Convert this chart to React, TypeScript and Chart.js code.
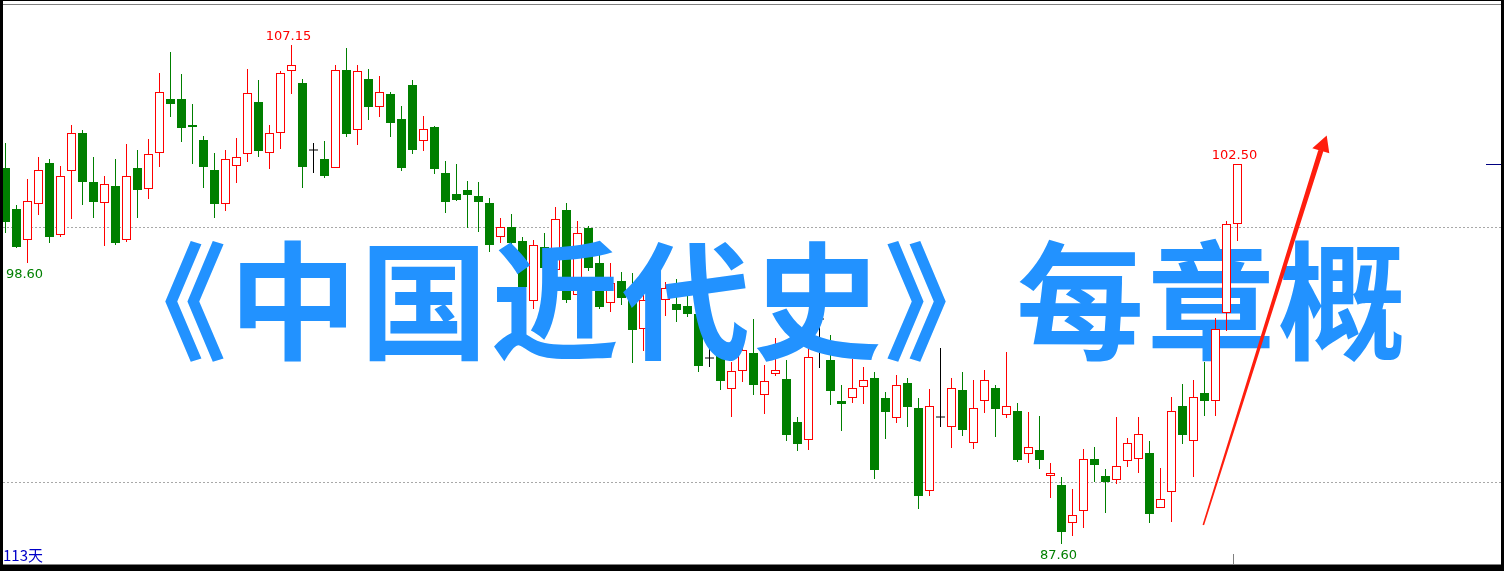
import { useEffect, useRef } from 'react';
import { Chart, registerables } from 'chart.js';

Chart.register(...registerables);

// ---- data (daily OHLC, 113 days) ----
const OPEN = [
  102.33, 100.72, 99.49, 100.90, 102.52, 99.69, 102.20, 103.70, 101.78, 100.94,
  101.62, 99.49, 102.33, 101.49, 102.90, 105.02, 105.02, 104.01, 103.42, 102.25,
  100.90, 102.39, 102.86, 104.91, 102.90, 103.69, 106.12, 105.65, 103.03, 102.68,
  102.31, 106.17, 103.80, 105.82, 104.71, 105.23, 104.25, 105.58, 103.37, 103.93,
  102.13, 101.32, 101.46, 101.23, 100.94, 99.61, 100.00, 99.46, 97.10, 99.22,
  98.33, 100.67, 97.33, 99.96, 98.59, 97.04, 97.89, 97.35, 96.00, 97.20,
  97.14, 96.99, 96.91, 96.60, 94.89, 95.30, 93.65, 94.35, 95.07, 93.41,
  94.24, 94.05, 92.36, 91.65, 96.40, 94.80, 93.19, 93.29, 93.73, 94.09,
  93.31, 92.53, 93.89, 92.91, 89.65, 92.55, 92.16, 93.61, 91.53, 93.18,
  93.69, 92.63, 92.80, 91.10, 91.27, 90.24, 89.89, 88.39, 88.89, 90.91,
  90.25, 90.08, 90.82, 90.90, 91.14, 88.99, 89.62, 92.98, 91.61, 93.49,
  93.18, 96.63, 100.12,
];
const HIGH = [
  103.29, 100.87, 101.89, 102.76, 102.67, 102.40, 104.00, 103.82, 102.76, 102.01,
  102.68, 103.27, 103.03, 103.46, 106.06, 106.87, 106.01, 104.84, 103.58, 102.93,
  103.03, 103.50, 106.21, 105.78, 104.01, 106.14, 107.15, 105.80, 103.29, 103.38,
  106.36, 107.03, 106.36, 106.21, 105.93, 105.31, 104.76, 105.78, 104.36, 103.97,
  102.60, 102.48, 101.82, 101.78, 101.15, 100.36, 100.52, 99.61, 99.50, 99.76,
  100.78, 100.94, 100.25, 100.05, 98.98, 98.59, 98.26, 98.20, 97.50, 97.50,
  97.87, 97.96, 97.35, 96.75, 95.50, 95.60, 94.73, 95.40, 96.40, 94.60,
  95.66, 94.80, 92.57, 95.32, 96.80, 95.78, 93.82, 94.82, 94.53, 94.34,
  93.54, 94.21, 94.09, 93.31, 93.66, 95.27, 94.09, 94.33, 94.01, 94.40,
  93.82, 95.11, 93.11, 92.76, 92.60, 90.76, 90.21, 89.74, 91.32, 91.40,
  90.53, 92.56, 91.74, 92.55, 91.61, 90.55, 93.36, 93.85, 94.02, 94.70,
  96.43, 100.26, 102.50,
];
const LOW = [
  99.76, 99.20, 98.60, 100.48, 99.40, 99.63, 100.34, 100.89, 100.38, 99.27,
  99.32, 99.42, 100.38, 101.12, 102.35, 104.34, 103.36, 102.48, 101.55, 100.38,
  100.65, 101.75, 102.57, 102.77, 102.30, 103.06, 105.22, 101.55, 102.14, 101.95,
  102.31, 103.55, 103.24, 104.22, 104.34, 103.55, 102.22, 102.89, 103.00, 102.10,
  100.57, 101.04, 99.98, 99.83, 99.04, 99.40, 99.35, 96.69, 96.78, 98.10,
  98.10, 97.04, 97.12, 98.30, 96.78, 96.69, 96.95, 94.67, 95.16, 96.00,
  96.53, 96.30, 96.49, 94.34, 94.53, 93.62, 92.57, 93.95, 93.42, 92.68,
  94.17, 91.63, 91.24, 91.27, 94.49, 93.03, 92.02, 93.12, 93.07, 90.13,
  91.71, 92.34, 92.18, 88.96, 89.47, 92.18, 91.36, 91.83, 91.29, 92.71,
  91.79, 92.53, 90.81, 90.75, 90.51, 89.37, 87.60, 87.91, 88.22, 90.02,
  88.78, 89.92, 90.59, 90.35, 88.42, 88.99, 88.45, 91.49, 90.20, 92.60,
  92.61, 95.95, 99.47,
];
const CLOSE = [
  100.22, 99.24, 101.02, 102.24, 99.63, 102.01, 103.69, 101.79, 101.00, 101.69,
  99.40, 102.01, 101.47, 102.86, 105.29, 104.85, 103.91, 103.95, 102.38, 100.93,
  102.67, 102.77, 105.25, 103.00, 103.69, 106.04, 106.35, 102.38, 103.03, 102.02,
  106.16, 103.67, 106.12, 104.73, 105.29, 104.10, 102.34, 103.04, 103.84, 102.30,
  101.00, 101.08, 101.28, 101.00, 99.32, 100.00, 99.40, 97.67, 99.29, 98.39,
  100.31, 97.13, 99.76, 98.39, 96.89, 97.80, 97.24, 95.97, 97.15, 96.40,
  97.61, 96.77, 96.61, 94.57, 94.89, 93.98, 94.35, 95.20, 93.83, 93.96,
  94.39, 91.85, 91.51, 94.90, 96.40, 93.59, 93.08, 93.69, 94.00, 90.48,
  92.77, 93.80, 92.96, 89.47, 92.98, 92.55, 93.69, 92.04, 92.90, 94.00,
  92.89, 92.98, 90.89, 91.37, 90.89, 90.35, 88.06, 88.71, 90.91, 90.68,
  90.01, 90.63, 91.53, 91.88, 88.75, 89.33, 92.78, 91.84, 93.33, 93.18,
  96.00, 100.12, 102.50,
];
const GRID_LEVELS = [100, 90];
const TITLE_OPEN = '《';
const TITLE_LEFT = '中国近代史》';
const TITLE_RIGHT = '每章概';
const DAY_LABEL = '113天';
// candles whose high / low carries a price label
const HIGH_LABELS = [26, 112];
const LOW_LABELS = [2, 96];
// candles from this index on are painted over the title text
const FRONT_FROM = 110;

const RED = '#FF0000';
const GREEN = '#007F00';
const BLUE_TEXT = '#2292FF';

const W = 1504;
const H = 571;
const Y_MAX = 108.914;
const Y_MIN = 86.522;
const STEP = 11;

const idx = OPEN.map((_, i) => i);
const isDoji = (i: number) => CLOSE[i] === OPEN[i];
const isUp = (i: number) => CLOSE[i] > OPEN[i];
const colorOf = (i: number) => (isDoji(i) ? '#000000' : isUp(i) ? RED : GREEN);

function wickSet(filter: (i: number) => boolean, order: number) {
  const ids = idx.filter(filter);
  return {
    type: 'bar' as const,
    data: ids.map((i) => ({ x: i, y: [LOW[i], HIGH[i]] })),
    backgroundColor: ids.map(colorOf),
    borderWidth: 0,
    barThickness: 1,
    grouped: false,
    inflateAmount: 0,
    order,
  };
}
function bodySet(filter: (i: number) => boolean, order: number) {
  const ids = idx.filter((i) => filter(i) && !isDoji(i));
  return {
    type: 'bar' as const,
    data: ids.map((i) => ({ x: i, y: [OPEN[i], CLOSE[i]] })),
    backgroundColor: ids.map((i) => (isUp(i) ? '#FFFFFF' : GREEN)),
    borderColor: ids.map(colorOf),
    borderWidth: ids.map((i) => (isUp(i) ? 1 : 0)),
    borderSkipped: false,
    barThickness: 9,
    grouped: false,
    inflateAmount: 0,
    order,
  };
}

function drawRun(ctx: CanvasRenderingContext2D, text: string, x0: number, y: number, advance: number) {
  let x = x0;
  for (const ch of text) {
    ctx.fillText(ch, x, y);
    x += advance;
  }
}

export default function App() {
  const ref = useRef<HTMLCanvasElement | null>(null);
  useEffect(() => {
    const canvas = ref.current;
    if (!canvas) return;
    const back = (i: number) => i < FRONT_FROM;
    const front = (i: number) => i >= FRONT_FROM;
    const dojiIds = idx.filter(isDoji);
    const datasets: any[] = [
      wickSet(back, 10),
      bodySet(back, 9),
      {
        type: 'line',
        data: dojiIds.map((i) => ({ x: i, y: OPEN[i] })),
        showLine: false,
        pointStyle: 'line',
        pointRadius: 4.5,
        pointHoverRadius: 4.5,
        borderColor: '#000000',
        pointBorderColor: '#000000',
        pointBorderWidth: 1,
        clip: false,
        order: 8,
      },
      wickSet(front, 2),
      bodySet(front, 1),
    ];

    const overlay = {
      id: 'overlay',
      beforeDatasetsDraw(chart: any) {
        const { ctx } = chart;
        const y = chart.scales.y;
        ctx.save();
        ctx.strokeStyle = '#A8A8A8';
        ctx.lineWidth = 1;
        ctx.setLineDash([2, 2]);
        GRID_LEVELS.forEach((v) => {
          const py = Math.round(y.getPixelForValue(v)) + 0.5;
          ctx.beginPath();
          ctx.moveTo(3, py);
          ctx.lineTo(W - 3, py);
          ctx.stroke();
        });
        ctx.restore();
      },
      afterDatasetDraw(chart: any, args: any) {
        if (args.index !== 2) return;
        const { ctx } = chart;
        ctx.save();
        ctx.fillStyle = BLUE_TEXT;
        ctx.font = "bold 128px 'Noto Sans CJK SC'";
        ctx.textBaseline = 'middle';
        ctx.textAlign = 'left';
        ctx.fillText(TITLE_OPEN, 99, 301);
        drawRun(ctx, TITLE_LEFT, 229, 301, 131);
        drawRun(ctx, TITLE_RIGHT, 1016, 301, 131);
        ctx.restore();
      },
      afterDatasetsDraw(chart: any) {
        const { ctx } = chart;
        const xs = chart.scales.x;
        const ys = chart.scales.y;
        ctx.save();
        // arrow
        const p0 = { x: 1203.3, y: 525 };
        const b = { x: 1320.8, y: 150.8 };
        const tip = { x: 1326.7, y: 135.5 };
        const L = { x: 1312.3, y: 148.3 };
        const R = { x: 1329.3, y: 153.3 };
        const dx = b.x - p0.x;
        const dy = b.y - p0.y;
        const len = Math.hypot(dx, dy);
        const nx = -dy / len;
        const ny = dx / len;
        const w0 = 0.8;
        const w1 = 2.6;
        ctx.fillStyle = '#FF1E0E';
        ctx.beginPath();
        ctx.moveTo(p0.x + nx * w0, p0.y + ny * w0);
        ctx.lineTo(b.x + nx * w1, b.y + ny * w1);
        ctx.lineTo(L.x, L.y);
        ctx.lineTo(tip.x, tip.y);
        ctx.lineTo(R.x, R.y);
        ctx.lineTo(b.x - nx * w1, b.y - ny * w1);
        ctx.lineTo(p0.x - nx * w0, p0.y - ny * w0);
        ctx.closePath();
        ctx.fill();

        // price labels
        ctx.font = "13px 'DejaVu Sans'";
        ctx.textAlign = 'center';
        ctx.textBaseline = 'alphabetic';
        HIGH_LABELS.forEach((i) => {
          ctx.fillStyle = RED;
          ctx.fillText(HIGH[i].toFixed(2), xs.getPixelForValue(i) - 3, ys.getPixelForValue(HIGH[i]) - 5);
        });
        LOW_LABELS.forEach((i) => {
          ctx.fillStyle = GREEN;
          ctx.fillText(LOW[i].toFixed(2), xs.getPixelForValue(i) - 3, ys.getPixelForValue(LOW[i]) + 15);
        });

        // last price marker
        const last = CLOSE.length - 1;
        ctx.fillStyle = '#000080';
        ctx.fillRect(1486, Math.round(ys.getPixelForValue(CLOSE[last])), 15, 1);
        // bottom tick
        ctx.fillStyle = '#808080';
        ctx.fillRect(Math.round(xs.getPixelForValue(last)) - 5, 554, 1, 10);

        // day count
        ctx.font = "15px 'Noto Sans CJK SC'";
        ctx.textAlign = 'left';
        ctx.fillStyle = '#0000C8';
        ctx.fillText(DAY_LABEL, 3, 561);

        // frame
        ctx.fillStyle = '#000000';
        ctx.fillRect(0, 0, W, 1);
        ctx.fillRect(0, 0, 3, H);
        ctx.fillRect(W - 3, 0, 3, H);
        ctx.fillRect(0, 565, W, H - 565);
        ctx.fillStyle = '#808080';
        ctx.fillRect(3, 4, W - 6, 1);
        ctx.fillRect(3, 564, W - 6, 1);
        ctx.restore();
      },
    };

    const chart = new Chart(canvas, {
      type: 'bar',
      data: { datasets },
      options: {
        responsive: false,
        animation: false,
        devicePixelRatio: 1,
        events: [],
        layout: { padding: 0, autoPadding: false },
        plugins: { legend: { display: false }, tooltip: { enabled: false } },
        scales: {
          x: { type: 'linear', min: -0.5, max: -0.5 + W / STEP, display: false, offset: false },
          y: { type: 'linear', min: Y_MIN, max: Y_MAX, display: false, offset: false, alignToPixels: true },
        },
      },
      plugins: [overlay],
    } as any);
    return () => chart.destroy();
  }, []);

  return (
    <div style={{ position: 'fixed', left: 0, top: 0, width: W, height: H, background: '#fff' }}>
      <canvas ref={ref} width={W} height={H} style={{ display: 'block', width: W, height: H }} />
    </div>
  );
}
